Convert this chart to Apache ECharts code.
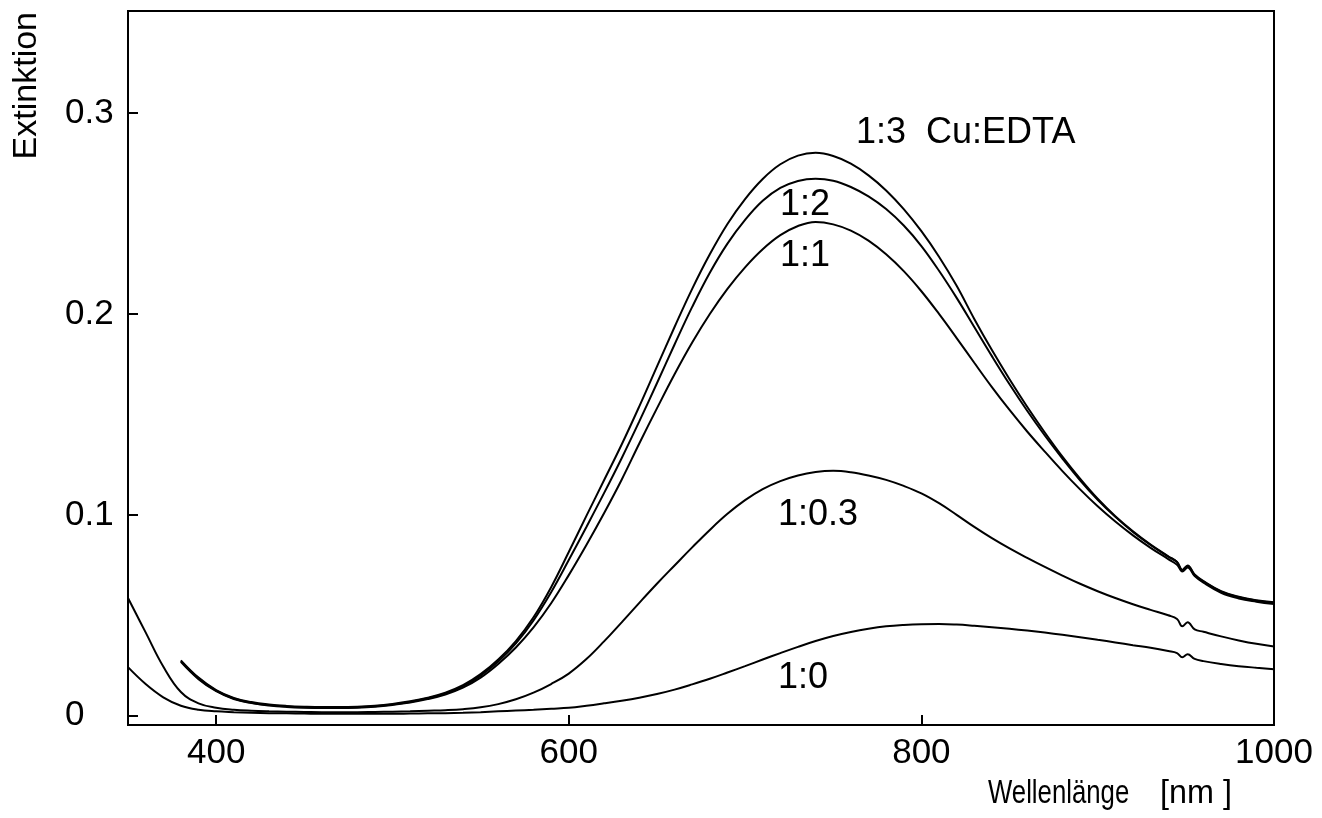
<!DOCTYPE html>
<html>
<head>
<meta charset="utf-8">
<title>Extinktion – Cu:EDTA</title>
<script src="https://cdn.jsdelivr.net/npm/echarts@6/dist/echarts.min.js"></script>
<style>
  html, body { margin: 0; padding: 0; background: #fff; }
  #chart { width: 1322px; height: 818px; }
</style>
</head>
<body>
<div id="chart"></div>
<script>
// Wavelength grid in nm (denser around the 950 nm detector step)
const wavelengths = [350,360,370,380,390,400,410,420,430,440,450,460,470,480,490,500,510,520,530,540,550,560,570,580,590,600,610,620,630,640,650,660,670,680,690,700,710,720,730,740,750,760,770,780,790,800,810,820,830,840,850,860,870,880,890,900,910,920,930,940,945,948,951,955,960,970,980,990,1000];

// Extinction for each Cu:EDTA ratio
const ext_1_0 = [0.0242,0.0158,0.0092,0.0050,0.0030,0.0022,0.0018,0.0015,0.0013,0.0012,0.0011,0.0010,0.0010,0.0010,0.0010,0.0010,0.0011,0.0012,0.0013,0.0015,0.0018,0.0022,0.0026,0.0030,0.0035,0.0040,0.0050,0.0062,0.0075,0.0090,0.0108,0.0130,0.0156,0.0184,0.0215,0.0247,0.0280,0.0312,0.0343,0.0372,0.0397,0.0417,0.0433,0.0445,0.0452,0.0456,0.0457,0.0454,0.0448,0.0441,0.0433,0.0424,0.0414,0.0403,0.0391,0.0378,0.0365,0.0351,0.0338,0.0322,0.0312,0.0291,0.0306,0.0283,0.0272,0.0258,0.0247,0.0239,0.0232];

const ext_1_03 = [0.0586,0.0415,0.0245,0.0118,0.0062,0.0040,0.0030,0.0025,0.0022,0.0020,0.0019,0.0018,0.0018,0.0018,0.0019,0.0020,0.0022,0.0025,0.0028,0.0033,0.0042,0.0058,0.0082,0.0115,0.0158,0.0210,0.0282,0.0370,0.0465,0.0562,0.0657,0.0748,0.0838,0.0925,0.1005,0.1073,0.1128,0.1168,0.1196,0.1213,0.1219,0.1212,0.1196,0.1174,0.1144,0.1107,0.1058,0.1000,0.0940,0.0884,0.0833,0.0786,0.0741,0.0698,0.0657,0.0620,0.0586,0.0555,0.0527,0.0500,0.0482,0.0445,0.0466,0.0430,0.0418,0.0395,0.0375,0.0358,0.0345];

const ext_1_1 = [null,null,null,0.0268,0.0182,0.0122,0.0083,0.0063,0.0051,0.0044,0.0040,0.0038,0.0038,0.0040,0.0045,0.0054,0.0066,0.0083,0.0106,0.0140,0.0190,0.0258,0.0340,0.0440,0.0560,0.0700,0.0850,0.1008,0.1175,0.1355,0.1530,0.1700,0.1858,0.2000,0.2125,0.2232,0.2322,0.2392,0.2438,0.2458,0.2446,0.2415,0.2365,0.2297,0.2213,0.2113,0.2000,0.1880,0.1757,0.1636,0.1522,0.1415,0.1315,0.1218,0.1127,0.1043,0.0967,0.0898,0.0836,0.0780,0.0752,0.0718,0.0738,0.0695,0.0662,0.0612,0.0584,0.0568,0.0556];

const ext_1_2 = [null,null,null,0.0272,0.0186,0.0125,0.0086,0.0065,0.0053,0.0046,0.0042,0.0040,0.0040,0.0042,0.0047,0.0056,0.0069,0.0087,0.0111,0.0147,0.0200,0.0270,0.0360,0.0475,0.0615,0.0775,0.0940,0.1108,0.1282,0.1465,0.1655,0.1848,0.2035,0.2205,0.2350,0.2468,0.2563,0.2627,0.2662,0.2673,0.2663,0.2632,0.2585,0.2522,0.2440,0.2338,0.2215,0.2080,0.1935,0.1790,0.1650,0.1518,0.1395,0.1280,0.1172,0.1075,0.0990,0.0915,0.0850,0.0792,0.0765,0.0724,0.0745,0.0700,0.0668,0.0618,0.0590,0.0573,0.0562];

const ext_1_3 = [null,null,null,0.0276,0.0190,0.0128,0.0089,0.0068,0.0056,0.0049,0.0045,0.0043,0.0043,0.0045,0.0050,0.0059,0.0072,0.0090,0.0115,0.0152,0.0207,0.0280,0.0372,0.0490,0.0640,0.0815,0.0995,0.1172,0.1350,0.1540,0.1738,0.1935,0.2125,0.2297,0.2448,0.2572,0.2672,0.2745,0.2788,0.2802,0.2786,0.2748,0.2690,0.2615,0.2522,0.2412,0.2285,0.2140,0.1975,0.1820,0.1675,0.1538,0.1410,0.1290,0.1180,0.1080,0.0993,0.0918,0.0852,0.0794,0.0766,0.0726,0.0748,0.0703,0.0670,0.0620,0.0592,0.0575,0.0565];

// Axis ticks and labels
const xTicks = [400, 600, 800];
const xLabels = [400, 600, 800, 1000];
const yTicks = [0, 0.1, 0.2, 0.3];

const seriesDefs = [
  { name: '1:0',   values: ext_1_0 },
  { name: '1:0.3', values: ext_1_03 },
  { name: '1:1',   values: ext_1_1 },
  { name: '1:2',   values: ext_1_2 },
  { name: '1:3',   values: ext_1_3 }
];

const FONT = '"Liberation Sans", Arial, sans-serif';

function pairs(values) {
  const out = [];
  for (let i = 0; i < wavelengths.length; i++) {
    if (values[i] !== null) out.push([wavelengths[i], values[i]]);
  }
  return out;
}

const chart = echarts.init(document.getElementById('chart'), null, { renderer: 'canvas' });

// free text placed in pixel space; sx compresses it horizontally
function txt(text, x, y, size, sx) {
  return {
    type: 'text',
    x: x, y: y,
    scaleX: sx || 1,
    style: {
      text: text,
      fill: '#000',
      font: size + 'px ' + FONT,
      textAlign: 'left',
      textVerticalAlign: 'middle'
    },
    silent: true
  };
}

chart.setOption({
  animation: false,
  backgroundColor: '#fff',
  grid: {
    left: 128, right: 48, top: 11, bottom: 93,
    show: true,
    borderColor: '#000',
    borderWidth: 2,
    containLabel: false
  },
  xAxis: {
    type: 'value',
    min: 350, max: 1000,
    axisLine: { show: true, onZero: false, lineStyle: { color: '#000', width: 2 } },
    axisTick: {
      show: true, inside: true, length: 10,
      customValues: xTicks,
      lineStyle: { color: '#000', width: 2 }
    },
    axisLabel: {
      customValues: xLabels,
      color: '#000',
      fontFamily: FONT,
      fontSize: 35,
      margin: 11,
      formatter: function (v) { return String(v); }
    },
    splitLine: { show: false }
  },
  yAxis: {
    type: 'value',
    min: -0.0046, max: 0.3508,
    axisLine: { show: true, lineStyle: { color: '#000', width: 2 } },
    axisTick: {
      show: true, inside: true, length: 10,
      customValues: yTicks,
      lineStyle: { color: '#000', width: 2 }
    },
    axisLabel: {
      customValues: yTicks,
      color: '#000',
      fontFamily: FONT,
      fontSize: 35,
      align: 'left',
      margin: 63,
      formatter: function (v) { return v === 0 ? '0' : v.toFixed(1); }
    },
    splitLine: { show: false }
  },
  series: seriesDefs.map(function (d) {
    return {
      name: d.name,
      type: 'line',
      data: pairs(d.values),
      showSymbol: false,
      smooth: 0.4,
      lineStyle: { color: '#000', width: 2 },
      silent: true
    };
  }),
  graphic: [
    // y-axis title, reading bottom to top
    {
      type: 'text',
      x: 27, y: 12,
      rotation: Math.PI / 2,
      style: {
        text: 'Extinktion',
        fill: '#000',
        font: '34px ' + FONT,
        textAlign: 'right',
        textVerticalAlign: 'middle'
      },
      silent: true
    },
    // x-axis title
    txt('Wellenlänge', 988, 794, 33, 0.78),
    txt('[nm ]', 1160, 794, 33, 0.98),
    // curve annotations
    txt('1:3  Cu:EDTA', 856, 133, 36, 1),
    txt('1:2', 780, 205, 36, 1),
    txt('1:1', 780, 256, 36, 1),
    txt('1:0.3', 778, 515, 36, 1),
    txt('1:0', 778, 678, 36, 1)
  ]
});
</script>
</body>
</html>
